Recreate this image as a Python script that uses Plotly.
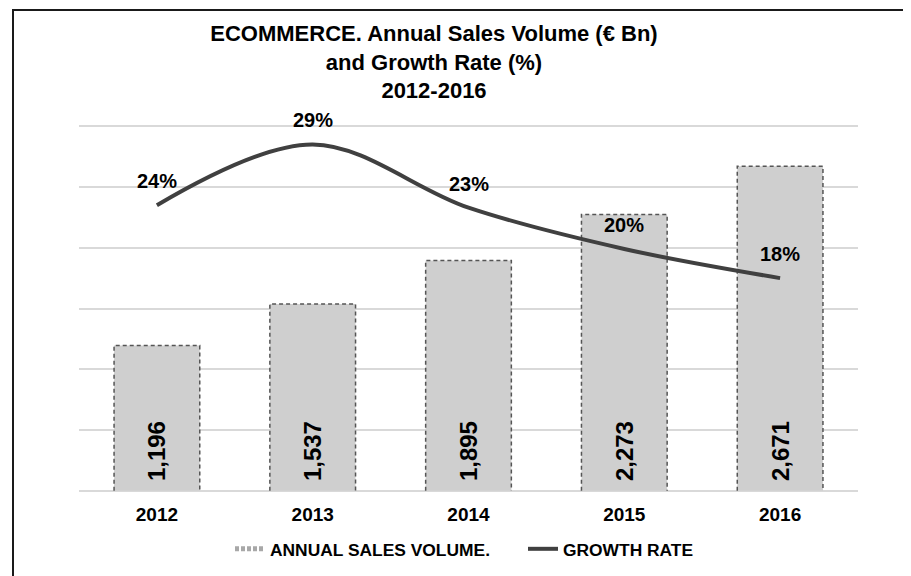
import plotly.graph_objs as go

years = ['2012', '2013', '2014', '2015', '2016']
sales = [1196, 1537, 1895, 2273, 2671]            # EUR Bn
growth = [0.235, 0.285, 0.233, 0.199, 0.175]
growth_labels = ['24%', '29%', '23%', '20%', '18%']

FONT = 'Liberation Sans, Arial, sans-serif'
# page body has an 8px margin, so the figure is 8px smaller and shifted
W, H = 903, 568
ml, mt = 71, 117
pw, ph = 779, 367
mr, mb = W - ml - pw, H - mt - ph
bar_w = 0.55

xs = list(range(len(years)))

# dashed outline for the bars (plotly bar lines can't be dashed)
ox, oy = [], []
for i, v in zip(xs, sales):
    ox += [i - bar_w / 2, i - bar_w / 2, i + bar_w / 2, i + bar_w / 2, None]
    oy += [0, v, v, 0, None]

fig = go.Figure()

fig.add_trace(go.Bar(
    x=xs, y=sales, width=bar_w,
    marker=dict(color='#cfcfcf', line=dict(width=0)),
    text=['\u00a0' + f'{v:,}' for v in sales],
    textposition='inside', insidetextanchor='start', textangle=-90,
    textfont=dict(family=FONT, size=24, color='black', weight='bold'),
    showlegend=False, hoverinfo='skip'))

fig.add_trace(go.Scatter(
    x=ox, y=oy, mode='lines',
    line=dict(color='#555555', width=1.5, dash='4px,3px'),
    showlegend=False, hoverinfo='skip'))

# legend-only entry so the swatch looks dashed
fig.add_trace(go.Scatter(
    x=[None], y=[None], mode='lines', name='ANNUAL SALES VOLUME.',
    line=dict(color='#a8a8a8', width=5, dash='4px,2px')))

fig.add_trace(go.Scatter(
    x=xs, y=growth, yaxis='y2', mode='lines', name='GROWTH RATE',
    line=dict(color='#404040', width=4, shape='spline', smoothing=1.0)))

for i, g, lab in zip(xs, growth, growth_labels):
    fig.add_annotation(
        x=i, y=g, xref='x', yref='y2', text=lab, showarrow=False,
        yshift=24, font=dict(family=FONT, size=20, color='black', weight='bold'))

# frame: only left and top edges show in the original
fx0 = (5 - ml) / pw
fy1 = (H - mb - 2) / ph
fig.add_shape(
    type='path', xref='paper', yref='paper',
    path=f'M {fx0} -0.4 L {fx0} {fy1} L 1.3 {fy1}',
    line=dict(color='#1a1a1a', width=2), layer='above')

fig.update_layout(
    width=W, height=H,
    margin=dict(l=ml, r=mr, t=mt, b=mb, autoexpand=False),
    paper_bgcolor='white', plot_bgcolor='white',
    font=dict(family=FONT, color='black'),
    title=dict(
        text='ECOMMERCE. Annual Sales Volume (€ Bn)<br>and Growth Rate (%)<br>2012-2016',
        x=426 / W, xref='container', xanchor='center',
        y=1 - 33 / H, yref='container', yanchor='top',
        font=dict(family=FONT, size=22, color='black', weight='bold')),
    xaxis=dict(
        range=[-0.5, len(years) - 0.5], tickvals=xs, ticktext=years,
        showgrid=False, zeroline=False, ticks='', ticklabelstandoff=9,
        tickfont=dict(family=FONT, size=19, color='black', weight='bold')),
    yaxis=dict(
        range=[-10, 3010], dtick=500, showticklabels=False,
        showgrid=True, gridcolor='#d9d9d9', gridwidth=1.5,
        zeroline=True, zerolinecolor='#d9d9d9', zerolinewidth=2),
    yaxis2=dict(
        range=[-0.001, 0.301], overlaying='y', side='right',
        showgrid=False, showticklabels=False, zeroline=False),
    legend=dict(
        orientation='h', x=(222 - ml) / pw, xanchor='left',
        y=1 - 541 / H, yref='container', yanchor='middle',
        font=dict(family=FONT, size=17.4, color='black', weight='bold'),
        entrywidth=248, itemwidth=30),
)

fig.write_html("out.html")
